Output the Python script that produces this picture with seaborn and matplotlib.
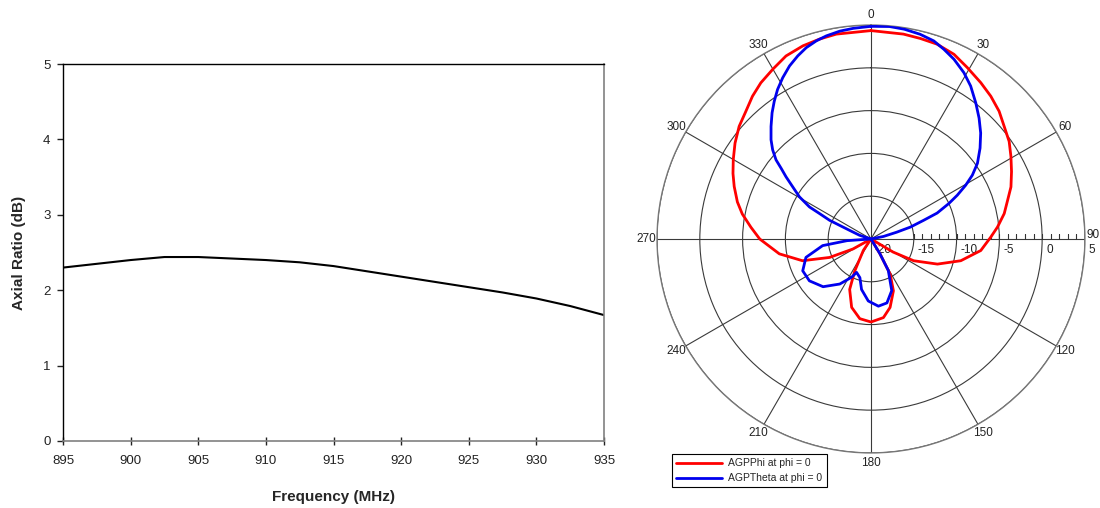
import numpy as np
import matplotlib
matplotlib.use("Agg")
import matplotlib.pyplot as plt
import matplotlib.transforms as mtransforms
from matplotlib import font_manager
import seaborn as sns

# ---------------- data ----------------
FREQ_MHZ = [895, 897.5, 900, 902.5, 905, 907.5, 910, 912.5, 915, 917.5,
            920, 922.5, 925, 927.5, 930, 932.5, 935]
AXIAL_RATIO_DB = [2.30, 2.35, 2.40, 2.44, 2.44, 2.42, 2.40, 2.37, 2.32, 2.25,
                  2.18, 2.11, 2.04, 1.97, 1.89, 1.79, 1.67]
FREQ_TICKS = [895, 900, 905, 910, 915, 920, 925, 930, 935]
AR_TICKS = [0, 1, 2, 3, 4, 5]

PHI_ANGLE_DEG = [0, 9, 13.8, 18.7, 24.2, 29.3, 35.1, 40, 45.1, 49.8, 54.8,
                 59.5, 64.4, 69.6, 74.2, 79.2, 84.6, 89.1, 96, 103.6, 110.7,
                 117, 120.6, 126, 146, 148.7, 151.4, 156.6, 164.4, 171, 180,
                 188, 195.8, 202.9, 206.9, 213.8, 218, 236, 241, 246, 252.4,
                 260.8, 270, 275.6, 281, 285.5, 291, 295.4, 300, 305.2, 310.5,
                 315.6, 320.3, 324.8, 330, 335.1, 340.6, 345.6, 350.4, 360]
PHI_GAIN_DB = [4.35, 4.24, 4.13, 4.04, 3.66, 2.98, 2.32, 1.78, 1.14, 0.38,
               -0.24, -1.02, -1.79, -2.55, -3.41, -4.15, -5.15, -6.0, -7.1,
               -9.2, -11.7, -14.4, -17.0, -20, -20, -18.0, -15.3, -13.4,
               -11.7, -10.7, -10.3, -10.6, -11.7, -13.6, -15.8, -18.4, -20,
               -20, -17.6, -14.7, -11.6, -9.15, -7.0, -5.9, -4.68, -3.8,
               -2.88, -2.15, -1.42, -0.56, 0.26, 0.89, 1.68, 2.33, 2.92,
               3.58, 3.93, 4.12, 4.28, 4.35]

THETA_ANGLE_DEG = [0, 5, 9, 13.5, 17.6, 21, 24.8, 29.2, 33.1, 37.6, 41.8, 46,
                   50.2, 54.6, 57.8, 60.4, 63.1, 65.5, 68.6, 70.5, 73.2, 75.2,
                   78.5, 80, 146, 148.7, 151.2, 158.1, 166, 173.7, 182.5,
                   190.6, 196, 203.3, 206.8, 214.7, 225.1, 235.8, 245, 254.2,
                   262.2, 266, 270, 285, 288, 292, 293.5, 294.3, 296.3, 297.5,
                   300.5, 303.7, 306.2, 308.2, 309.8, 312.2, 314.8, 318.4,
                   321.9, 324.9, 328, 331.3, 334.8, 338.2, 341.3, 344.6, 347.6,
                   351.5, 355.2, 360]
THETA_GAIN_DB = [4.85, 4.92, 4.82, 4.6, 4.28, 3.75, 3.13, 2.26, 1.33, 0.07,
                 -1.05, -2.18, -3.41, -4.74, -6.0, -7.27, -8.69, -10.0, -11.7,
                 -13.5, -15.2, -16.9, -18.5, -20, -20, -18.0, -15.8, -13.5,
                 -12.3, -12.1, -12.75, -14.0, -15.3, -15.75, -15.0, -13.6,
                 -12.1, -11.3, -11.2, -12.1, -14.3, -17.2, -20, -20, -18.6,
                 -17.3, -16.0, -14.7, -13.3, -11.9, -10.3, -9.0, -7.7, -6.64,
                 -5.56, -4.49, -3.54, -2.41, -1.27, -0.34, 0.6, 1.48, 2.35,
                 3.04, 3.6, 4.02, 4.3, 4.56, 4.7, 4.85]

R_RINGS = [-15, -10, -5, 0, 5]
R_LABELS = [-20, -15, -10, -5, 0, 5]
ANGLE_LABELS = [0, 30, 60, 90, 120, 150, 180, 210, 240, 270, 300, 330]
SERIES_NAMES = ["AGPPhi at phi = 0", "AGPTheta at phi = 0"]

# ---------------- style ----------------
sns.set_style("ticks")
installed = {f.name for f in font_manager.fontManager.ttflist}
MAIN_FONT = "Liberation Sans" if "Liberation Sans" in installed else "DejaVu Sans"
NARROW_FONT = MAIN_FONT
for cand in ["Liberation Sans Narrow", "DejaVu Sans Condensed"]:
    if cand in installed:
        NARROW_FONT = cand
        break
plt.rcParams["font.family"] = [MAIN_FONT, "DejaVu Sans"]

fig = plt.figure(figsize=(11, 5.08), dpi=100)

# ---------------- left: axial ratio ----------------
ax1 = fig.add_axes([0.0573, 0.1319, 0.4918, 0.7421])
sns.lineplot(x=FREQ_MHZ, y=AXIAL_RATIO_DB, ax=ax1, color="black", lw=1.5)
ax1.set_xlim(895, 935)
ax1.set_ylim(0, 5)
ax1.set_xticks(FREQ_TICKS)
ax1.set_yticks(AR_TICKS)
ax1.tick_params(axis="x", direction="inout", length=6, width=1, pad=7,
                labelsize=9.5, colors="#222222")
ax1.tick_params(axis="y", direction="out", length=4, width=1, pad=5,
                labelsize=9.5, colors="#222222")
for side in ["left", "top"]:
    ax1.spines[side].set_visible(True)
    ax1.spines[side].set_color("black")
    ax1.spines[side].set_linewidth(1)
for side in ["right", "bottom"]:
    ax1.spines[side].set_visible(True)
    ax1.spines[side].set_color("#808080")
    ax1.spines[side].set_linewidth(1.2)
ax1.set_xlabel("Frequency (MHz)", fontsize=11, fontweight="bold", labelpad=17)
ax1.set_ylabel("Axial Ratio (dB)", fontsize=11, fontweight="bold", labelpad=12)

# ---------------- right: polar pattern ----------------
ax2 = fig.add_axes([0.5973, 0.1083, 0.389, 0.8425], projection="polar")
ax2.set_theta_zero_location("N")
ax2.set_theta_direction(-1)
ax2.set_ylim(-20, 5)
ax2.set_yticks(R_RINGS)
ax2.set_yticklabels([])
ax2.set_xticks(np.deg2rad(ANGLE_LABELS))
ax2.set_xticklabels([])
minor = [a for a in range(0, 360, 5) if a % 30]
ax2.set_xticks(np.deg2rad(minor), minor=True)
ax2.tick_params(axis="x", which="major", length=0, pad=0)
ax2.tick_params(axis="x", which="minor", direction="in", length=5,
                width=0.8, color="#333333")
ax2.grid(True, which="major", color="#3a3a3a", lw=0.8)
ax2.spines["polar"].set_color("#777777")
ax2.spines["polar"].set_linewidth(1.0)

# angle labels just outside the rim
for a in ANGLE_LABELS:
    t = np.deg2rad(a)
    dist = 10.5
    dx, dy = dist * np.sin(t), dist * np.cos(t)
    if a == 90:
        dx, dy = 8, 4
    tr = mtransforms.offset_copy(ax2.transData, fig=fig, x=dx, y=dy,
                                 units="dots")
    ax2.text(t, 5, str(a), transform=tr, ha="center", va="center",
             fontsize=8.5, family=NARROW_FONT, color="#222222", clip_on=False)

# radial ticks along 90 deg axis
r_minor = np.arange(-15, 5.5, 1)
ax2.plot(np.full(len(r_minor), np.pi / 2), r_minor, ls="none",
         marker=[(0, 0), (0, 1)], ms=7, mec="#333333", mew=0.8, zorder=1.6)

# radial labels
off = mtransforms.offset_copy(ax2.transData, fig=fig, x=4, y=-5, units="dots")
for v in R_LABELS:
    ax2.text(np.pi / 2, v, f"{v}", transform=off,
             ha="left", va="top", fontsize=8.5, family=NARROW_FONT,
             color="#222222", zorder=1.5)

l1, = ax2.plot(np.deg2rad(PHI_ANGLE_DEG), PHI_GAIN_DB, color="#ff0000",
               lw=2.0, zorder=3, label=SERIES_NAMES[0])
l2, = ax2.plot(np.deg2rad(THETA_ANGLE_DEG), THETA_GAIN_DB, color="#0000ee",
               lw=2.0, zorder=4, label=SERIES_NAMES[1])

leg = fig.legend(handles=[l1, l2], loc="lower left",
                 bbox_to_anchor=(0.6109, 0.0407), borderaxespad=0,
                 frameon=True, fancybox=False,
                 edgecolor="black", framealpha=1, handlelength=4.4,
                 borderpad=0.4, labelspacing=0.45, handletextpad=0.6,
                 prop={"family": NARROW_FONT, "size": 7.5})
leg.get_frame().set_linewidth(0.8)

fig.savefig("out.png", dpi=100)
